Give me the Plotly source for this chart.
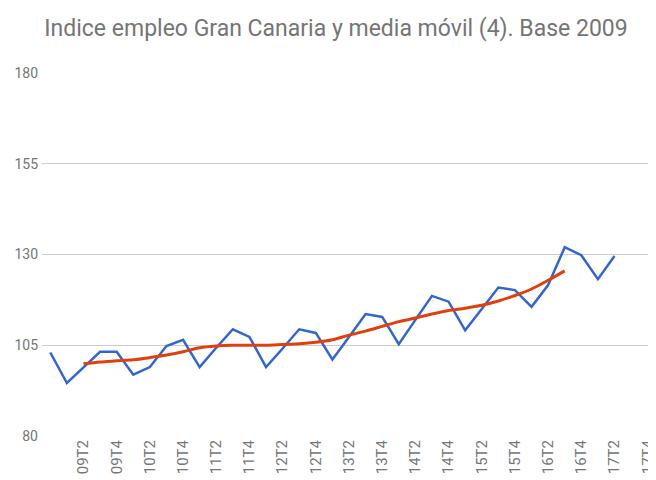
import plotly.graph_objects as go

categories = ["08T4"] + [f"{y:02d}T{q}" for y in range(9, 18) for q in range(1, 5)]

empleo = [103.0, 94.6, 98.9, 103.2, 103.2, 96.9, 99.0, 104.8, 106.5, 99.0,
          104.3, 109.4, 107.3, 99.0, 104.1, 109.4, 108.4, 101.1, 107.3, 113.6,
          112.8, 105.3, 112.0, 118.6, 117.0, 109.1, 115.0, 120.9, 120.2, 115.6,
          121.6, 132.0, 129.8, 123.2, 129.6, None, None]

media_movil = [None, None, 99.9, 100.4, 100.7, 101.0, 101.6, 102.3, 103.2, 104.3,
               104.8, 105.0, 105.0, 105.0, 105.2, 105.4, 105.8, 106.5, 107.8, 108.9,
               110.2, 111.5, 112.5, 113.6, 114.6, 115.2, 116.0, 117.2, 118.7, 120.5,
               122.9, 125.5, None, None, None, None, None]

tick_labels = categories[2::2]
y_ticks = [80, 105, 130, 155, 180]

fig = go.Figure()
fig.add_trace(go.Scatter(x=categories, y=empleo, mode="lines",
                         line=dict(color="#3366cc", width=2.5), name="Indice empleo"))
fig.add_trace(go.Scatter(x=categories, y=media_movil, mode="lines",
                         line=dict(color="#e0400f", width=3, shape="spline", smoothing=0.8),
                         name="Media móvil (4)"))

fig.update_layout(
    width=648, height=472,
    margin=dict(l=34, r=0, t=65, b=44, autoexpand=False),
    paper_bgcolor="white", plot_bgcolor="white",
    showlegend=False,
    title=dict(text="Indice empleo Gran Canaria y media móvil (4). Base 2009",
               x=328 / 648, xref="container", xanchor="center",
               y=1 - 20 / 472, yref="container", yanchor="middle",
               font=dict(family="Roboto", size=23, color="#757575")),
    xaxis=dict(type="category", categoryorder="array", categoryarray=categories,
               range=[-0.5, 36.5], showgrid=False, zeroline=False, showline=False,
               tickmode="array", tickvals=tick_labels, ticktext=tick_labels,
               tickangle=-90, ticks="", automargin=False,
               tickfont=dict(family="Roboto", size=15, color="#757575")),
    yaxis=dict(range=[80, 180], tickvals=y_ticks, showgrid=True, gridcolor="#cccccc",
               gridwidth=1, zeroline=False, showline=False, ticks="", automargin=False,
               ticklabelstandoff=3,
               tickfont=dict(family="Roboto", size=14, color="#757575")),
)

fig.write_html("out.html")
